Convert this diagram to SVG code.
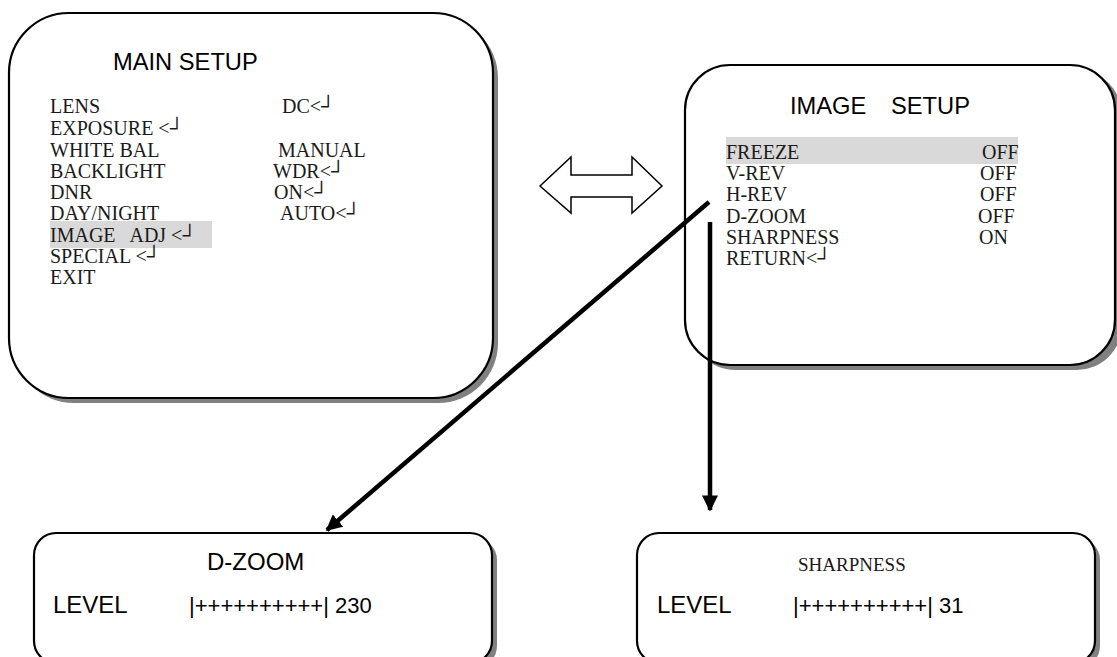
<svg xmlns="http://www.w3.org/2000/svg" width="1117" height="657" viewBox="0 0 1117 657">
<style>
.box{fill:#fff;stroke:#000;stroke-width:2.2}
.shadow{fill:#808080}
.hl{fill:#d9d9d9}
.title{font-family:"Liberation Sans",Arial,sans-serif;font-size:23.7px;fill:#000}
.sans{font-family:"Liberation Sans",Arial,sans-serif;font-size:24px;fill:#000}
.bar{font-family:"Liberation Sans",Arial,sans-serif;font-size:22px;fill:#000}
.menu{font-family:"Liberation Serif","Times New Roman","DejaVu Serif",serif;font-size:20px;fill:#1a1a1a}
.conn{stroke:#000;stroke-width:4.5;fill:none}
</style>
<defs>
<marker id="ah" viewBox="0 0 10 10" refX="9" refY="5" markerWidth="3.6" markerHeight="3.6" orient="auto" markerUnits="strokeWidth">
<path d="M0,0 L10,5 L0,10 Z" fill="#000"/>
</marker>
</defs>
<rect width="1117" height="657" fill="#fff"/>

<g id="main-setup">
<rect class="shadow" x="14" y="18" width="484" height="385" rx="60"/>
<rect class="box" x="9" y="13" width="484" height="385" rx="60"/>
<rect class="hl" x="50" y="221" width="162" height="27"/>
<text class="title" x="113" y="70">MAIN SETUP</text>
<text class="menu" x="50" y="113">LENS</text>
<text class="menu" x="50" y="135">EXPOSURE &lt;┘</text>
<text class="menu" x="50" y="157">WHITE BAL</text>
<text class="menu" x="50" y="178">BACKLIGHT</text>
<text class="menu" x="50" y="199">DNR</text>
<text class="menu" x="50" y="220">DAY/NIGHT</text>
<text class="menu" x="50" y="242" xml:space="preserve">IMAGE   ADJ &lt;┘</text>
<text class="menu" x="50" y="263">SPECIAL &lt;┘</text>
<text class="menu" x="50" y="284">EXIT</text>
<text class="menu" x="282" y="113">DC&lt;┘</text>
<text class="menu" x="278" y="157">MANUAL</text>
<text class="menu" x="273" y="178">WDR&lt;┘</text>
<text class="menu" x="274" y="199">ON&lt;┘</text>
<text class="menu" x="280" y="220">AUTO&lt;┘</text>
</g>

<g id="image-setup">
<rect class="shadow" x="690" y="70" width="432" height="300" rx="45"/>
<rect class="box" x="685" y="65" width="430" height="300" rx="45"/>
<rect class="hl" x="726" y="137" width="292" height="27"/>
<text class="title" x="790" y="114">IMAGE</text>
<text class="title" x="891" y="114">SETUP</text>
<text class="menu" x="726" y="159">FREEZE</text>
<text class="menu" x="726" y="180">V-REV</text>
<text class="menu" x="726" y="201">H-REV</text>
<text class="menu" x="726" y="223">D-ZOOM</text>
<text class="menu" x="726" y="244">SHARPNESS</text>
<text class="menu" x="726" y="265">RETURN&lt;┘</text>
<text class="menu" x="982" y="159">OFF</text>
<text class="menu" x="980" y="180">OFF</text>
<text class="menu" x="980" y="201">OFF</text>
<text class="menu" x="978" y="223">OFF</text>
<text class="menu" x="979" y="244">ON</text>
</g>

<g id="dzoom">
<rect class="shadow" x="39" y="538" width="458" height="130" rx="22"/>
<rect class="box" x="34" y="533" width="458" height="130" rx="22"/>
<text class="sans" x="207" y="570">D-ZOOM</text>
<text class="sans" x="53" y="613">LEVEL</text>
<text class="bar" x="189" y="613">|++++++++++| 230</text>
</g>

<g id="sharpness">
<rect class="shadow" x="642" y="538" width="458" height="130" rx="22"/>
<rect class="box" x="637" y="533" width="458" height="130" rx="22"/>
<text class="menu" x="798" y="571" style="font-size:19px">SHARPNESS</text>
<text class="sans" x="657" y="613">LEVEL</text>
<text class="bar" x="793" y="613">|++++++++++| 31</text>
</g>

<g id="connectors">
<path d="M540,186 L571,157 L571,175 L632,175 L632,157 L662,186 L632,213 L632,197 L571,197 L571,213 Z" fill="#fff" stroke="#000" stroke-width="1.5" stroke-linejoin="miter"/>
<line class="conn" x1="709" y1="202" x2="327" y2="530" marker-end="url(#ah)"/>
<line class="conn" x1="710" y1="222" x2="710" y2="510" marker-end="url(#ah)"/>
</g>
</svg>
